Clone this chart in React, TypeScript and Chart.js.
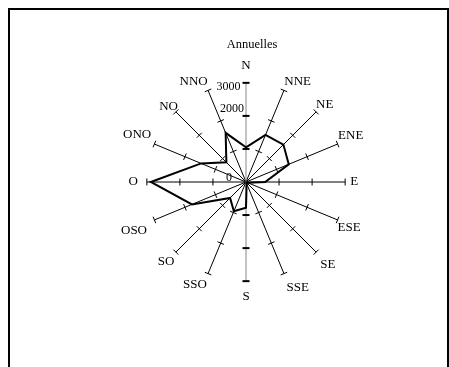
import React, { useEffect, useRef } from 'react';
import { Chart, registerables } from 'chart.js';

Chart.register(...registerables);

const directions = ['N', 'NNE', 'NE', 'ENE', 'E', 'ESE', 'SE', 'SSE', 'S', 'SSO', 'SO', 'OSO', 'O', 'ONO', 'NO', 'NNO'];
const annualValues = [1050, 1540, 1600, 1400, 580, 50, 30, 50, 780, 960, 680, 1770, 2880, 1470, 840, 1610];
const tickValues = [0, 1000, 2000, 3000];
const tickLabels = ['0', '', '2000', '3000'];
const chartTitle = 'Annuelles';

const SERIF = '"Liberation Serif", "Times New Roman", serif';

// distance between each direction label and the end of its spoke
const labelPadding = [9, 1, 0, 0.5, 5, 0, 6, 7, 8, 3, 2, 8, 9, 3.5, -3, 1];

// per-tick label placement relative to the tick position on the N axis: [dx of right edge, dy of baseline]
const tickLabelOffsets: Record<number, [number, number]> = {
  0: [-14, -1.5],
  2000: [-2, -4],
  3000: [-5.5, 7.5],
};

const spokeTicks = {
  id: 'spokeTicks',
  beforeDatasetsDraw(chart: any) {
    const s = chart.scales.r;
    const ctx = chart.ctx as CanvasRenderingContext2D;
    const n = chart.data.labels.length;
    const half = 3.5;
    ctx.save();
    ctx.strokeStyle = '#000';
    for (let i = 0; i < n; i++) {
      const main = i % 8 === 0;
      const a = s.getIndexAngle(i) - Math.PI / 2;
      const px = -Math.sin(a);
      const py = Math.cos(a);
      ctx.lineWidth = main ? 2 : 1;
      for (const v of tickValues) {
        if (v === 0) continue;
        const p = s.getPointPositionForValue(i, v);
        ctx.beginPath();
        ctx.moveTo(p.x - px * half, p.y - py * half);
        ctx.lineTo(p.x + px * half, p.y + py * half);
        ctx.stroke();
      }
    }
    ctx.font = '12px ' + SERIF;
    ctx.fillStyle = '#000';
    ctx.textAlign = 'right';
    ctx.textBaseline = 'alphabetic';
    tickValues.forEach((v, k) => {
      const label = tickLabels[k];
      if (!label) return;
      const p = s.getPointPositionForValue(0, v);
      const off = tickLabelOffsets[v] || [-4, 4];
      ctx.fillText(label, p.x + off[0], p.y + off[1]);
    });
    // chart title, above the rose
    ctx.font = '12.5px ' + SERIF;
    ctx.textAlign = 'center';
    ctx.textBaseline = 'middle';
    ctx.fillText(chartTitle, s.xCenter + 6, 44.5);
    ctx.restore();
  },
};

export default function App() {
  const canvasRef = useRef<HTMLCanvasElement | null>(null);

  useEffect(() => {
    if (!canvasRef.current) return;
    const chart = new Chart(canvasRef.current, {
      type: 'radar',
      data: {
        labels: directions,
        datasets: [
          {
            label: chartTitle,
            data: annualValues,
            borderColor: '#000',
            borderWidth: 2,
            backgroundColor: 'rgba(0,0,0,0)',
            fill: false,
            pointRadius: 0,
            pointHoverRadius: 0,
            tension: 0,
          },
        ],
      },
      options: {
        animation: false,
        responsive: false,
        maintainAspectRatio: false,
        events: [],
        layout: { padding: { left: 117, right: 82, top: 57, bottom: 60 } },
        plugins: {
          legend: { display: false },
          tooltip: { enabled: false },
          title: { display: false },
        },
        scales: {
          r: {
            min: 0,
            max: 3000,
            ticks: { display: false, stepSize: 1000 },
            grid: { display: false },
            angleLines: {
              display: true,
              lineWidth: 1,
              color: (c: any) => (c.index % 8 === 0 ? '#888' : '#000'),
            },
            pointLabels: {
              display: true,
              color: '#000',
              font: { family: SERIF, size: 13 },
              padding: (c: any) => labelPadding[c.index],
            },
          },
        },
      },
      plugins: [spokeTicks],
    });
    return () => chart.destroy();
  }, []);

  return (
    <>
      <div
        style={{
          position: 'absolute',
          left: 8,
          top: 8,
          width: 441,
          height: 359,
          maxWidth: 'none',
          maxHeight: 'none',
          boxSizing: 'border-box',
          borderTop: '2px solid #000',
          borderLeft: '2px solid #000',
          borderRight: '2px solid #000',
          background: '#fff',
        }}
      />
      <canvas
        ref={canvasRef}
        width={449}
        height={367}
        style={{ position: 'absolute', left: 0, top: 0, width: 449, height: 367, maxWidth: 'none' }}
      />
    </>
  );
}
